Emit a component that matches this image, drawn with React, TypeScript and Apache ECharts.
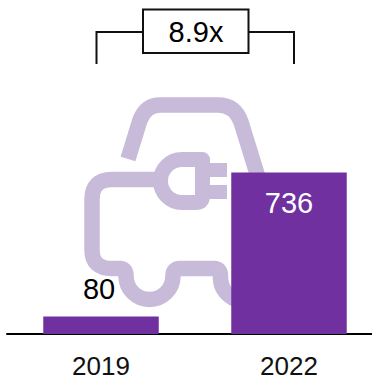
import React, { useEffect, useRef } from "react";
import * as echarts from "echarts";

const categories = ["2019", "2022"];
const values = [80, 736];
const multipleLabel = "8.9x";

const FONT = '"Liberation Sans", Arial, sans-serif';
const PURPLE = "#7030A0";
const LILAC = "#C8BBD9";

const CAR_BODY =
  "M128,159 L140,120 Q146,105 160,105 L218,105 Q235,105 241,122 L262,190";
const CAR_LOWER =
  "M161,179.5 L112,179.5 Q92,179.5 92,199.5 L92,250 Q92,268.5 112,268.5 L120,268.5 Q126,268.5 126,276 A23.5,23.5 0 0 0 173,276 Q173,268.5 180,268.5 L214,268.5 Q220.5,268.5 220.5,276 A23.5,23.5 0 0 0 250,300";
const PLUG =
  "M202.5,159.5 L182,159.5 A21.5,21.5 0 0 0 182,202.5 L196,202.5 Q202.5,202.5 202.5,196 Z";
const PRONG_TOP = "M202,170 L227,170";
const PRONG_BOTTOM = "M202,192 L227,192";

echarts.graphic.registerShape("carBody", echarts.graphic.extendPath(CAR_BODY, {}));
echarts.graphic.registerShape("carLower", echarts.graphic.extendPath(CAR_LOWER, {}));
echarts.graphic.registerShape("carPlug", echarts.graphic.extendPath(PLUG, {}));
echarts.graphic.registerShape("prongTop", echarts.graphic.extendPath(PRONG_TOP, {}));
echarts.graphic.registerShape("prongBottom", echarts.graphic.extendPath(PRONG_BOTTOM, {}));

export default function App() {
  const ref = useRef<HTMLDivElement>(null);
  useEffect(() => {
    document.body.style.margin = "0";
    const chart = echarts.init(ref.current!, undefined, { renderer: "svg" });
    const icon = (type: string, lineWidth: number) => ({
      type,
      z: 0,
      silent: true,
      style: { fill: "none", stroke: LILAC, lineWidth, lineCap: "butt", lineJoin: "round" },
    });
    chart.setOption({
      animation: false,
      backgroundColor: "#fff",
      grid: { left: 7, width: 376, top: 172.5, bottom: 42, outerBoundsMode: "none" },
      xAxis: {
        type: "category",
        data: categories,
        axisTick: { show: false },
        axisLine: { lineStyle: { color: "#000", width: 2 } },
        axisLabel: { color: "#111", fontFamily: FONT, fontSize: 26, lineHeight: 20, margin: 22 },
      },
      yAxis: { type: "value", min: 0, max: 736, show: false, splitLine: { show: false } },
      series: [
        {
          type: "bar",
          z: 5,
          barWidth: 115.5,
          itemStyle: { color: PURPLE },
          data: [
            {
              value: values[0],
              label: {
                show: true,
                position: "top",
                distance: 13,
                offset: [-2, 0],
                color: "#000",
                fontFamily: FONT,
                fontSize: 29,
              },
            },
            {
              value: values[1],
              label: {
                show: true,
                position: "insideTop",
                distance: 16,
                color: "#fff",
                fontFamily: FONT,
                fontSize: 29,
              },
            },
          ],
        },
      ],
      graphic: [
        icon("carBody", 15.5),
        icon("carLower", 15.5),
        icon("carPlug", 15),
        icon("prongTop", 14),
        icon("prongBottom", 14),
        {
          type: "polyline",
          z: 6,
          shape: { points: [[96.5, 64], [96.5, 32], [143, 32]] },
          style: { fill: "none", stroke: "#111", lineWidth: 2 },
        },
        {
          type: "polyline",
          z: 6,
          shape: { points: [[249, 32], [294, 32], [294, 64]] },
          style: { fill: "none", stroke: "#111", lineWidth: 2 },
        },
        {
          type: "rect",
          z: 6,
          shape: { x: 143, y: 9.5, width: 105.5, height: 43.5 },
          style: { fill: "#fff", stroke: "#111", lineWidth: 2 },
        },
        {
          type: "text",
          z: 7,
          x: 196,
          y: 32,
          style: {
            text: multipleLabel,
            fill: "#000",
            font: `29px ${FONT}`,
            textAlign: "center",
            textVerticalAlign: "middle",
          },
        },
      ],
    });
    return () => chart.dispose();
  }, []);
  return <div ref={ref} style={{ width: 372, height: 376 }} />;
}
